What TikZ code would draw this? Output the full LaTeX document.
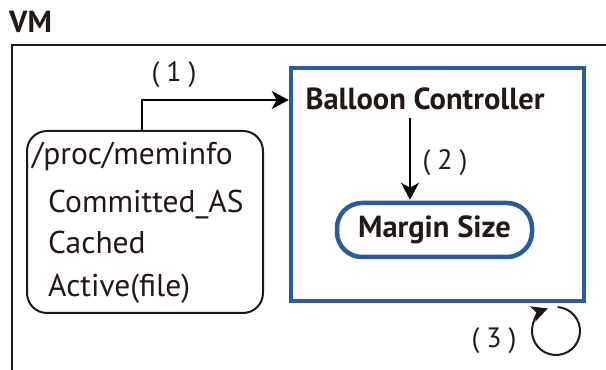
\documentclass[tikz,border=0pt]{standalone}
\usepackage{fontspec}
\setmainfont{PT Sans}
\usetikzlibrary{arrows.meta}
\definecolor{ctlblue}{RGB}{42,92,154}
\definecolor{inkblack}{RGB}{35,24,21}

\begin{document}
\begin{tikzpicture}[x=1pt,y=1pt,
    txt/.style={inner sep=0pt, text=inkblack, font=\fontsize{31.5}{33}\selectfont},
    boldtxt/.style={txt, font=\fontsize{30.5}{32}\selectfont\bfseries},
    steplabel/.style={inner sep=0pt, text=inkblack, font=\fontsize{28}{30}\selectfont},
    arrow/.style={draw=black, line width=2pt, -{Stealth[length=17pt,width=18pt,inset=5pt]}}]
        \useasboundingbox (0,0) rectangle (606,370);
        % VM frame
        \node[boldtxt, anchor=base west] (vm) at (9,337){VM};
        \draw[inkblack, line width=2pt](12,0)--(12,325)--(606,325);
        % /proc/meminfo
        \node[draw=inkblack, line width=2pt, rounded corners=20pt, minimum width=236pt, minimum height=182pt] (meminfo) at (145,148){};
        \node[txt, anchor=base west] (proc) at (32,205){/proc/meminfo};
        \node[txt, anchor=base west] (commit) at (48,157){Committed\_AS};
        \node[txt, anchor=base west] (cached) at (48,116){Cached};
        \node[txt, anchor=base west] (active) at (48,73){Active(file)};
        % balloon controller
        \node[draw=ctlblue, line width=4.5pt, minimum width=293pt, minimum height=233pt] (ctl) at (437.5,185.5){};
        \node[boldtxt, anchor=base, inner sep=0pt] (title) at (425,260){Balloon Controller};
        \node[boldtxt, draw=ctlblue, line width=4.5pt, rounded corners=25pt, minimum width=195pt, minimum height=54pt] (margin) at (434.5,140){Margin Size};
        % steps
        \draw[arrow]([xshift=-3pt]meminfo.north) |- ([yshift=10pt]ctl.west |- title.base);
        \node[steplabel, anchor=base] (s1) at (174,288){(\hspace{7pt}1\hspace{7pt})};
        \draw[arrow]([xshift=-24.5pt, yshift=-8pt]margin.north |- title.base) -- ([xshift=-24.5pt, yshift=1pt]margin.north);
        \node[steplabel, anchor=base] (s2) at (445,200){(\hspace{7pt}2\hspace{7pt})};
        \coordinate (loop) at (556,39);
        \draw[draw=inkblack, line width=2pt, -{Stealth[length=16pt,width=16pt,inset=4pt]}]([shift={(86:24)}]loop) arc[start angle=86, delta angle=-336, radius=24];
        \node[steplabel, anchor=base] (s3) at (494,23){(\hspace{7pt}3\hspace{7pt})};
    \end{tikzpicture}
\end{document}
